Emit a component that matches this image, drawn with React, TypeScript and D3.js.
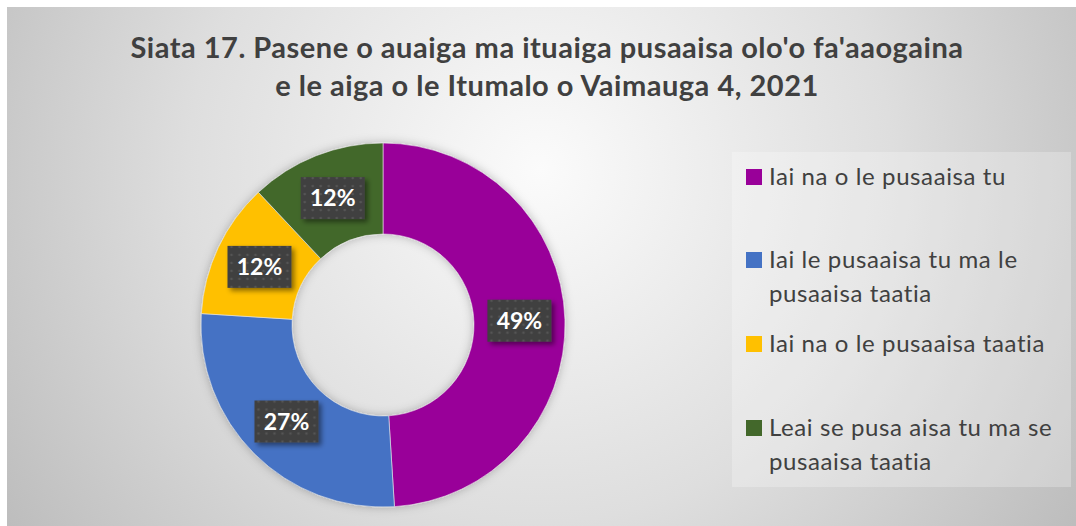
import * as d3 from "d3";
import React from "react";

// chart data
const categories = [
  "Iai na o le pusaaisa tu",
  "Iai le pusaaisa tu ma le pusaaisa taatia",
  "Iai na o le pusaaisa taatia",
  "Leai se pusa aisa tu ma se pusaaisa taatia",
];
const values = [49, 27, 12, 12];
const colors = ["#990099", "#4472c4", "#ffc000", "#43682b"];
// legend text wrapped like the original
const legendLines = [
  ["Iai na o le pusaaisa tu"],
  ["Iai le pusaaisa tu ma le", "pusaaisa taatia"],
  ["Iai na o le pusaaisa taatia"],
  ["Leai se pusa aisa tu ma se", "pusaaisa taatia"],
];
const titleLines = [
  "Siata 17. Pasene o auaiga ma ituaiga pusaaisa olo'o fa'aaogaina",
  "e le aiga o le Itumalo o Vaimauga 4, 2021",
];

const W = 1076;
const H = 526;
const cx = 383;
const cy = 325;
const outerR = 182;
const innerR = 91;

// legend rows: baseline of first line
const legendY = [185, 268, 352, 436];

const App = () => {
  const pie = d3
    .pie<number>()
    .sort(null)
    .value((d) => d);
  const arcs = pie(values);
  const arc = d3.arc<d3.PieArcDatum<number>>().innerRadius(innerR).outerRadius(outerR);
  const fmt = d3.format(".0%");
  const total = d3.sum(values);

  return (
    <svg
      width={W}
      height={H}
      style={{ position: "absolute", left: 0, top: 0, display: "block" }}
      fontFamily="Lato, 'Open Sans', sans-serif"
    >
      <defs>
        <radialGradient id="bg" gradientUnits="userSpaceOnUse" cx={540} cy={170} r={640}>
          <stop offset="0" stopColor="#fbfbfb" />
          <stop offset="0.55" stopColor="#dedede" />
          <stop offset="1" stopColor="#bdbdbd" />
        </radialGradient>
        <pattern id="dots" width={8} height={8} patternUnits="userSpaceOnUse">
          <rect width={8} height={8} fill="#404040" />
          <circle cx={4} cy={4} r={1.3} fill="#555555" />
        </pattern>
        <filter id="shadow" x="-30%" y="-30%" width="160%" height="160%">
          <feDropShadow dx={3} dy={3} stdDeviation={2.5} floodColor="#000" floodOpacity={0.45} />
        </filter>
        <filter id="donutShadow" x="-20%" y="-20%" width="140%" height="140%">
          <feDropShadow dx={0} dy={0} stdDeviation={5} floodColor="#000" floodOpacity={0.25} />
        </filter>
      </defs>

      <rect x={0} y={0} width={W} height={H} fill="#ffffff" />
      <rect x={7} y={7} width={W - 7} height={H - 7} fill="url(#bg)" />

      {/* title */}
      <g fill="#404040" fontWeight="bold" fontSize={29} letterSpacing={0.5} textAnchor="middle">
        {titleLines.map((t, i) => (
          <text key={i} x={547} y={58 + i * 38}>
            {t}
          </text>
        ))}
      </g>

      {/* donut */}
      <g transform={`translate(${cx},${cy})`}>
        <g filter="url(#donutShadow)">
          {arcs.map((a, i) => (
            <path key={i} d={arc(a) as string} fill={colors[i]} stroke="#e8e8e8" strokeWidth={0.6} />
          ))}
        </g>
        {arcs.map((a, i) => {
          const [lx, ly] = arc.centroid(a);
          return (
            <g key={i} transform={`translate(${lx},${ly})`}>
              <rect x={-32} y={-21} width={64} height={42} fill="url(#dots)" filter="url(#shadow)" />
              <text
                textAnchor="middle"
                dy="0.36em"
                fill="#ffffff"
                fontWeight="bold"
                fontSize={23}
              >
                {fmt(values[i] / total)}
              </text>
            </g>
          );
        })}
      </g>

      {/* legend */}
      <rect x={732} y={152} width={339} height={335} fill="#ffffff" fillOpacity={0.25} />
      {categories.map((c, i) => (
        <g key={c}>
          <rect x={746} y={legendY[i] - 16} width={16} height={16} fill={colors[i]} />
          <text x={769} y={legendY[i]} fill="#404040" fontSize={24} letterSpacing={0.6}>
            {legendLines[i].map((l, j) => (
              <tspan key={j} x={769} dy={j === 0 ? 0 : 34}>
                {l}
              </tspan>
            ))}
          </text>
        </g>
      ))}
    </svg>
  );
};

export default App;
